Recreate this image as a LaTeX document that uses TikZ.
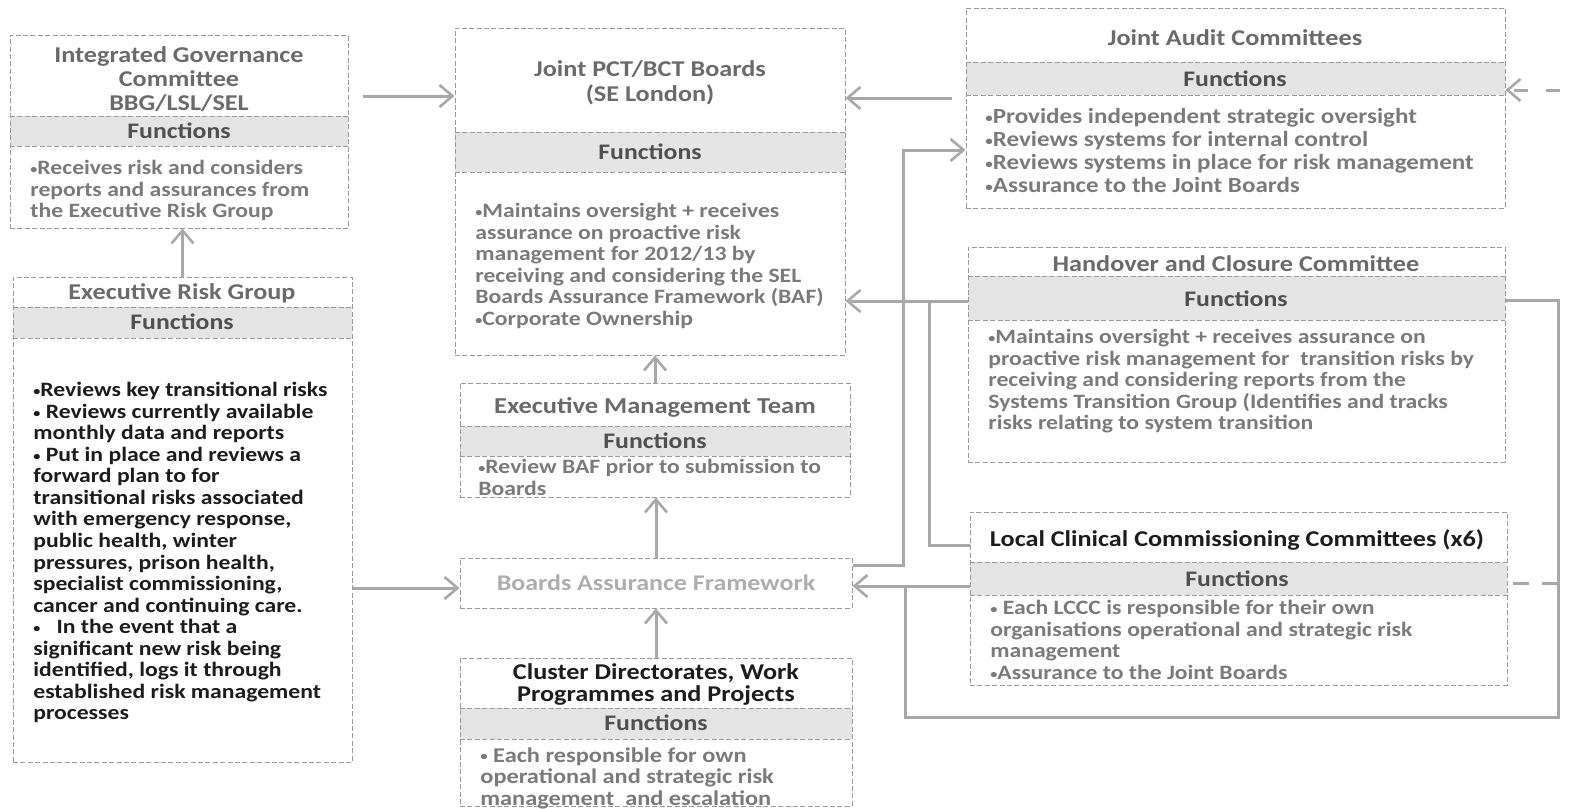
\documentclass[tikz,border=0pt]{standalone}
\usepackage{graphicx}
\usepackage{fontspec}
\setmainfont{Carlito}[FakeStretch=1.16]
\usetikzlibrary{arrows.meta,fit,calc}
\definecolor{boxline}{HTML}{9A9A9A}
\definecolor{bandfill}{HTML}{E4E4E4}
\definecolor{conn}{HTML}{A8A8A8}
\definecolor{ttl}{HTML}{6A6A6A}
\definecolor{fnc}{HTML}{4F4F4F}
\definecolor{bdy}{HTML}{7A7A7A}
\definecolor{dark}{HTML}{1C1C1C}
\definecolor{faint}{HTML}{ADADAD}
\newcommand\bul{\raisebox{0.12ex}{\scalebox{0.6}{•}}}
\tikzset{
  panel/.style={draw=boxline, line width=0.5pt, dash pattern=on 2.5pt off 1.2pt, inner sep=0pt},
  bandrule/.style={draw=boxline, line width=0.5pt, dash pattern=on 2.5pt off 1.2pt},
  link/.style={draw=conn, line width=1.5pt},
  arrow/.style={link, -{Straight Barb[length=6.5pt,width=11pt,line width=1.3pt]}},
  title/.style={font=\fontsize{11.3}{12}\selectfont\bfseries, text=ttl, align=center, inner sep=0pt},
  func/.style={font=\fontsize{11.1}{12}\selectfont\bfseries, text=fnc, inner sep=0pt},
  body/.style={font=\fontsize{10.2}{10.75}\selectfont\bfseries, text=bdy, align=left, anchor=north west, inner sep=0pt},
}
\newcommand\panel[7]{%
  \fill[bandfill] (#2,#6) rectangle (#4,#7);
  \draw[bandrule] (#2,#6) -- (#4,#6) (#2,#7) -- (#4,#7);
  \node[panel, fit={(#2,#3) (#4,#5)}] (#1) {};
}
\begin{document}
\begin{tikzpicture}[x=0.5pt,y=-0.5pt]
\useasboundingbox (0,0) rectangle (1571,809);

% boxes
\panel{igc}{10}{35}{348}{228}{116}{146}
\panel{jpct}{455}{28}{845}{355}{132}{172}
\panel{ja}{966}{8}{1505}{208}{62}{95}
\panel{hc}{968}{247}{1505}{462}{276}{320}
\panel{lccc}{970}{512}{1507}{685}{562}{595}
\panel{erg}{13}{277}{352}{762}{307}{338}
\panel{emt}{460}{383}{850}{497}{426}{456}
\node[panel, fit={(460,558) (852,608)}] (baf) {};
\panel{cl}{460}{658}{852}{806}{708}{739}

% Integrated Governance Committee
\node[title] (igcT) at (179,79) {Integrated Governance\\Committee\\BBG/LSL/SEL};
\node[func] (igcF) at (179,131) {Functions};
\node[body] (igcB) at (30,160) {\bul Receives risk and considers\\reports and assurances from\\the Executive Risk Group};

% Joint PCT/BCT Boards
\node[title, font=\fontsize{11.3}{12.5}\selectfont\bfseries] (jpctT) at (650,83) {Joint PCT/BCT Boards\\(SE London)};
\node[func] (jpctF) at (650,152) {Functions};
\node[body] (jpctB) at (475,203) {\bul Maintains oversight + receives\\assurance on proactive risk\\management for 2012/13 by\\receiving and considering the SEL\\Boards Assurance Framework (BAF)\\\bul Corporate Ownership};

% Joint Audit Committees
\node[title] (jaT) at (1235,38) {Joint Audit Committees};
\node[func] (jaF) at (1235,79) {Functions};
\node[body, font=\fontsize{10.8}{11.5}\selectfont\bfseries] (jaB) at (985,108) {\bul Provides independent strategic oversight\\\bul Reviews systems for internal control\\\bul Reviews systems in place for risk management\\\bul Assurance to the Joint Boards};

% Handover and Closure Committee
\node[title] (hcT) at (1236,264) {Handover and Closure Committee};
\node[func] (hcF) at (1236,299) {Functions};
\node[body] (hcB) at (988,329) {\bul Maintains oversight + receives assurance on\\proactive risk management for\ \ transition risks by\\receiving and considering reports from the\\Systems Transition Group (Identifies and tracks\\risks relating to system transition};

% Local Clinical Commissioning Committees
\node[title, text=dark] (lcccT) at (1237,540) {Local Clinical Commissioning Committees (x6)};
\node[func] (lcccF) at (1237,579) {Functions};
\node[body] (lcccB) at (990,600) {\bul\ Each LCCC is responsible for their own\\organisations operational and strategic risk\\management\\\bul Assurance to the Joint Boards};

% Executive Risk Group
\node[title] (ergT) at (182,293) {Executive Risk Group};
\node[func] (ergF) at (182,322) {Functions};
\node[body, text=dark, font=\fontsize{10.2}{10.77}\selectfont\bfseries] (ergB) at (33,382) {\bul Reviews key transitional risks\\\bul\ Reviews currently available\\monthly data and reports\\\bul\ Put in place and reviews a\\forward plan to for\\transitional risks associated\\with emergency response,\\public health, winter\\pressures, prison health,\\specialist commissioning,\\cancer and continuing care.\\\bul\ \ \ In the event that a\\significant new risk being\\identified, logs it through\\established risk management\\processes};

% Executive Management Team
\node[title, font=\fontsize{11.4}{13}\selectfont\bfseries] (emtT) at (655,407) {Executive Management Team};
\node[func] (emtF) at (655,441) {Functions};
\node[body] (emtB) at (478,459) {\bul Review BAF prior to submission to\\Boards};

% Boards Assurance Framework
\node[title, text=faint, font=\fontsize{11.2}{12}\selectfont\bfseries] (bafT) at (656,583) {Boards Assurance Framework};

% Cluster Directorates
\node[title, text=dark, font=\fontsize{11.3}{11}\selectfont\bfseries] (clT) at (656,684) {Cluster Directorates, Work\\Programmes and Projects};
\node[func] (clF) at (656,723) {Functions};
\node[body, font=\fontsize{10.5}{10.9}\selectfont\bfseries] (clB) at (480,747) {\bul\ Each responsible for own\\operational and strategic risk\\management\ \ and escalation};

% connectors
\draw[arrow, shorten <=7pt] (igc.east |- 0,96) -- (jpct.west |- 0,96);
\draw[arrow] (erg.north) -- (erg.north |- igc.south);
\draw[arrow] (erg.east |- 0,588) -- (baf.west |- 0,588);
\draw[arrow] (emt.north) -- (emt.north |- jpct.south);
\draw[arrow] (baf.north) -- (baf.north |- emt.south);
\draw[arrow] (cl.north) -- (cl.north |- baf.south);
\draw[arrow, shorten <=7pt] (ja.west |- 0,98) -- (jpct.east |- 0,98);
\draw[arrow] (baf.east |- 0,565) -| (903,150) -- (ja.west |- 0,150);
\draw[arrow] (hc.west |- 0,301) -- (jpct.east |- 0,301);
\draw[link] (lccc.west |- 0,545) -| (929,301);
\draw[arrow] (lccc.west |- 0,586) -- (baf.east |- 0,586);
\draw[link] (hc.east |- 0,300) -| (1558,717) -| (905,586);
\coordinate (offR) at (1560,90);
\draw[arrow, dash pattern=on 7pt off 9pt] (offR) -- (ja.east |- offR);
\coordinate (offR2) at (1558,583);
\draw[link, dash pattern=on 8pt off 6.5pt] (offR2) -- (lccc.east |- offR2);
\end{tikzpicture}
\end{document}
